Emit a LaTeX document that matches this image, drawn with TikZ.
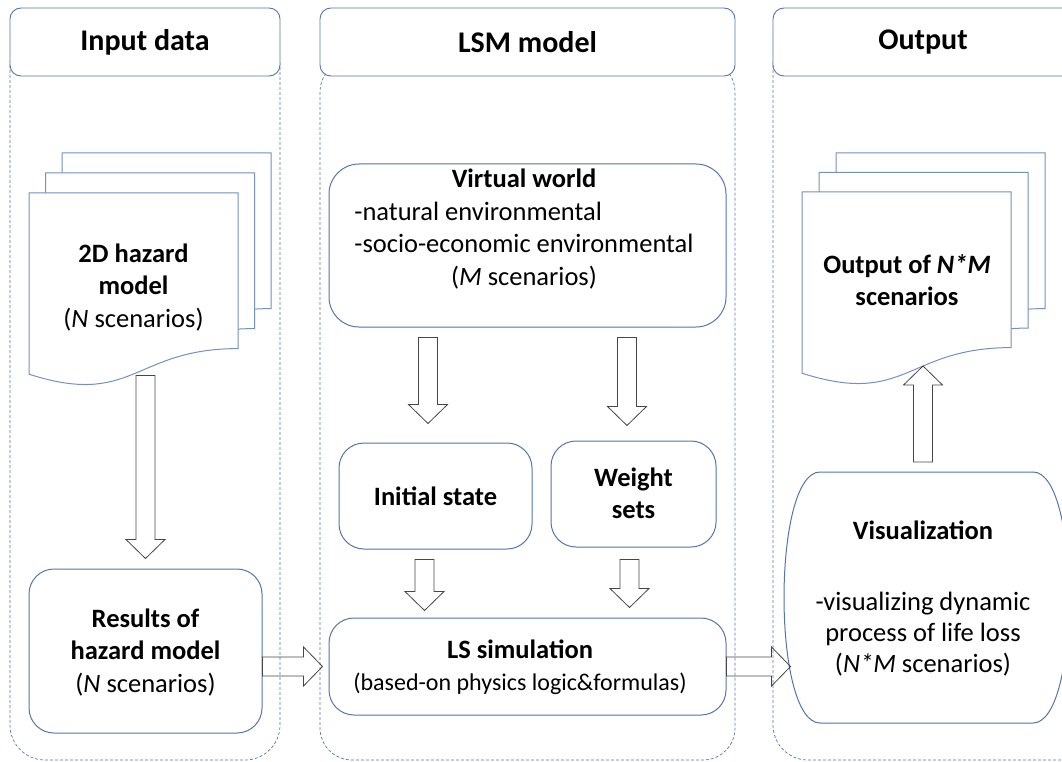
\documentclass[tikz,border=0pt]{standalone}
\usepackage{fontspec}
\setmainfont{Carlito}
\usetikzlibrary{calc}

\definecolor{boxblue}{RGB}{84,118,170}
\definecolor{docblue}{RGB}{118,144,190}
\definecolor{colblue}{RGB}{88,118,172}
\definecolor{arrowgray}{RGB}{70,70,70}

\newcommand\diagfont{\fontsize{26.5}{32.5}\selectfont}
\newcommand\stack[1]{\begin{tabular}{@{}c@{}}#1\end{tabular}}

% hollow block arrow from #1 to #2 (tip at #2)
\newcommand\blockarrow[2]{%
  \path ($(#2)!19pt!(#1)$) coordinate (ba-h);
  \draw[barrow] ($(#1)!9.5pt!90:(#2)$) -- ($(ba-h)!9.5pt!90:(#2)$)
    -- ($(ba-h)!19.5pt!90:(#2)$) -- (#2) -- ($(ba-h)!19.5pt!-90:(#2)$)
    -- ($(ba-h)!9.5pt!-90:(#2)$) -- ($(#1)!9.5pt!-90:(#2)$) -- cycle;
}

% document sheet with a wavy lower edge, top-left corner at (#1,#2)
\newcommand\docpage[2]{%
  \begin{scope}[shift={(#1,#2)}]
    \draw[docpage] (0,0) -- (209,0) -- (209,155.6)
      .. controls (104.5,155.6) and (104.5,214.8) .. (0,181.2) -- cycle;
  \end{scope}
}

\begin{document}
\begin{tikzpicture}[x=1pt,y=-1pt,
  hdr/.style={draw=boxblue, line width=0.9pt, rounded corners=11pt, fill=white,
    minimum height=68pt, inner sep=0pt, font=\fontsize{30}{36}\selectfont\bfseries},
  rbox/.style={draw=boxblue, line width=1pt, rounded corners=#1, fill=white, inner sep=0pt},
  rbox/.default=25pt,
  colline/.style={draw=colblue, line width=0.7pt, dash pattern=on 3pt off 2pt},
  docpage/.style={draw=docblue, line width=1pt, fill=white},
  barrow/.style={draw=arrowgray, line width=0.8pt, line join=miter},
  txt/.style={inner sep=0pt, align=center, font=\diagfont}]

\useasboundingbox (0,0) rectangle (1062,762);
\clip (0,0) rectangle (1062,762);

% dashed swimlanes
\draw[colline, rounded corners=35pt] (10,30) rectangle (280,760);
\draw[colline, rounded corners=32pt] (320,60) rectangle (735,760);
\draw[colline, rounded corners=35pt] (773,30) rectangle (1120,760);

% lane headers
\node[hdr, minimum width=270pt] (hin) at (145,42) {Input data};
\node[hdr, minimum width=415pt] (hlsm) at (527.5,42) {LSM model};
\node[hdr, minimum width=300pt] (hout) at (923,42) {Output};

% input documents
\docpage{62}{153}
\docpage{45.5}{173}
\docpage{29}{193}
\node[txt] (hazdoc) at (133.5,288) {\stack{\textbf{2D hazard}\\ \textbf{model}\\ (\textit{N} scenarios)}};

% output documents
\docpage{836}{153}
\docpage{819}{172.5}
\docpage{802}{192}
\node[txt] (outdoc) at (907,283) {\stack{\textbf{Output of \textit{N*M}}\\ \textbf{scenarios}}};

% rounded boxes
\node[rbox, minimum width=233pt, minimum height=164pt] (res) at (145.5,651) {};
\node[txt] (restext) at (145.5,653) {\stack{\textbf{Results of}\\ \textbf{hazard model}\\ (\textit{N} scenarios)}};

\node[rbox=30pt, minimum width=397pt, minimum height=163pt] (vw) at (527.5,245.5) {};
\node[txt] (vwtext) at (524,230) {\begin{tabular}{@{}l@{}}
  \multicolumn{1}{@{}c@{}}{\textbf{Virtual world}}\\
  -natural environmental\\
  -socio-economic environmental\\
  \multicolumn{1}{@{}c@{}}{(\textit{M} scenarios)}
\end{tabular}};

\node[rbox, minimum width=193pt, minimum height=106pt] (init) at (435.5,496) {};
\node[txt] (inittext) at (435.5,498.5) {\stack{\textbf{Initial state}}};

\node[rbox, minimum width=165pt, minimum height=106pt] (wts) at (633.5,494) {};
\node[txt] (wtstext) at (633.5,495.75) {\stack{\textbf{Weight}\\ \textbf{sets}}};

\node[rbox, minimum width=397pt, minimum height=97pt] (ls) at (527.5,666.5) {};
\node[txt] (lstext) at (520,667.75) {\stack{\textbf{LS simulation}\\
  {\fontsize{24}{28}\selectfont (based-on physics logic\&formulas)}}};

% visualization shape with bulging sides
\draw[draw=boxblue, line width=1pt, fill=white]
  (820,472) -- (1033,472) .. controls (1081,472) and (1081,723) .. (1033,723)
  -- (820,723) .. controls (772,723) and (772,472) .. (820,472) -- cycle;
\coordinate (vis-n) at (923,472);
\node[txt] (vis) at (923,599.3) {\fontsize{26.5}{31}\selectfont
  \begin{tabular}{@{}c@{}}\textbf{Visualization}\\[40pt]
  -visualizing dynamic\\ process of life loss\\ (\textit{N*M} scenarios)\end{tabular}};

% block arrows
\coordinate (a1s) at ($(res.north)+(0,-193)$);
\coordinate (a1e) at ($(res.north)+(0,-10)$);
\blockarrow{a1s}{a1e}

\coordinate (a2s) at (res.east |- ls.west);
\coordinate (a2e) at ($(ls.west)+(-6,0)$);
\blockarrow{a2s}{a2e}

\coordinate (a3s) at ($(vw.south west)!0.25!(vw.south east)+(0,10)$);
\coordinate (a3e) at ($(a3s |- init.north)+(0,-19)$);
\blockarrow{a3s}{a3e}

\coordinate (a4s) at ($(vw.south west)!0.75!(vw.south east)+(0,10)$);
\coordinate (a4e) at ($(a4s |- wts.north)+(0,-15)$);
\blockarrow{a4s}{a4e}

\coordinate (a5s) at ($(init.south)+(-11,10)$);
\coordinate (a5e) at ($(a5s |- ls.north)+(0,-7)$);
\blockarrow{a5s}{a5e}

\coordinate (a6s) at ($(wts.south)+(-4,12)$);
\coordinate (a6e) at ($(a6s |- ls.north)+(0,-10)$);
\blockarrow{a6s}{a6e}

\coordinate (a7s) at (ls.east);
\coordinate (a7e) at ($(ls.east)+(64,0)$);
\blockarrow{a7s}{a7e}

\coordinate (a8s) at ($(vis-n)+(0,-10)$);
\coordinate (a8e) at ($(vis-n)+(0,-106)$);
\blockarrow{a8s}{a8e}

\end{tikzpicture}
\end{document}
